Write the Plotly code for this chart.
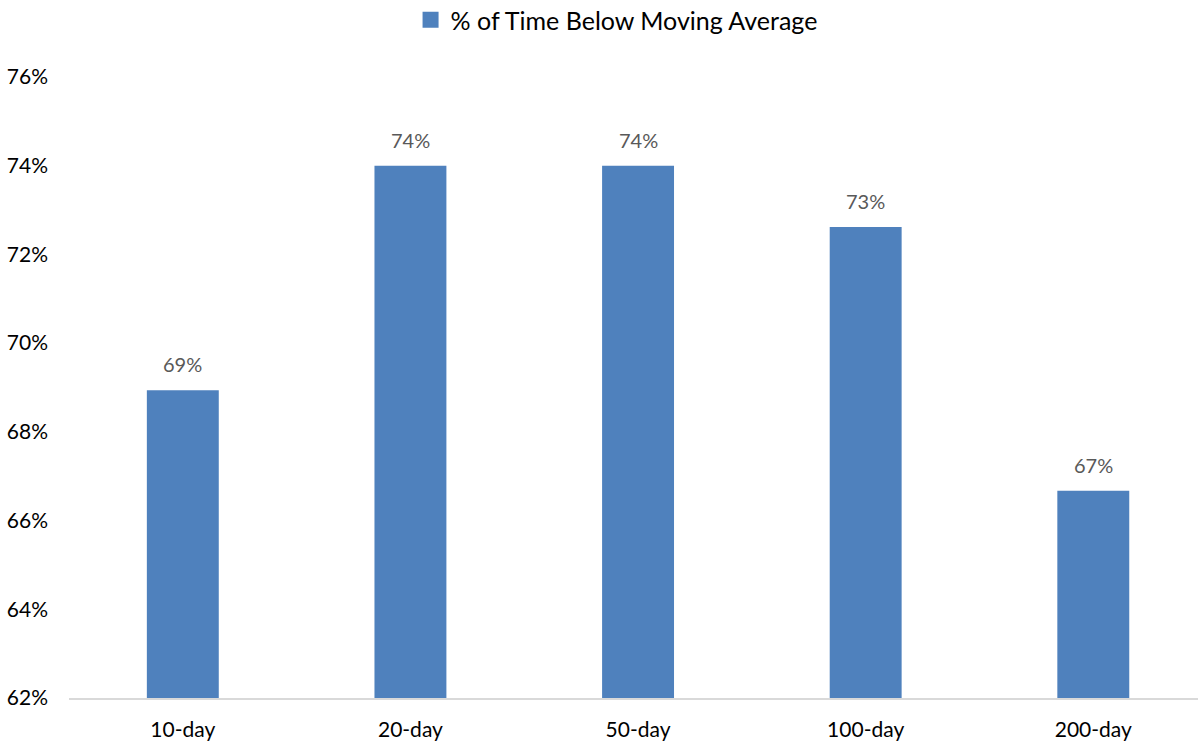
import plotly.graph_objects as go

categories = ["10-day", "20-day", "50-day", "100-day", "200-day"]
pct_below = [0.6894, 0.7400, 0.7400, 0.7262, 0.6667]
series_name = "% of Time Below Moving Average"
y_ticks = [0.62, 0.64, 0.66, 0.68, 0.70, 0.72, 0.74, 0.76]

FONT = "Lato, 'Open Sans', sans-serif"
BAR_COLOR = "#4F81BD"

fig = go.Figure()

# Bars (legend entry supplied by the square-marker trace below)
fig.add_trace(
    go.Bar(
        x=categories,
        y=pct_below,
        name=series_name,
        marker=dict(color=BAR_COLOR, line=dict(width=0)),
        showlegend=False,
    )
)

# Legend-only entry with a larger square swatch
fig.add_trace(
    go.Scatter(
        x=[None],
        y=[None],
        mode="markers",
        name=series_name,
        marker=dict(symbol="square", size=17, color=BAR_COLOR),
        showlegend=True,
    )
)

# Value labels floating above each bar
for cat, val in zip(categories, pct_below):
    fig.add_annotation(
        x=cat,
        y=val,
        text=f"{val:.0%}",
        showarrow=False,
        yanchor="middle",
        yshift=26,
        font=dict(family=FONT, size=20, color="#595959"),
    )

fig.update_layout(
    width=1198,
    height=742,
    margin=dict(l=69, r=0, t=77, b=44),
    paper_bgcolor="white",
    plot_bgcolor="white",
    bargap=0.684,
    showlegend=True,
    legend=dict(
        orientation="h",
        x=0.485,
        xanchor="center",
        y=0.973,
        yref="container",
        yanchor="middle",
        font=dict(family=FONT, size=25, color="#000000"),
        itemsizing="trace",
        itemwidth=30,
    ),
    font=dict(family=FONT),
)

fig.update_xaxes(
    range=[-0.5, 4.46],
    showgrid=False,
    showline=True,
    linecolor="#D9D9D9",
    linewidth=2,
    ticks="",
    ticklabelstandoff=12,
    tickfont=dict(family=FONT, size=21, color="#000000"),
)

fig.update_yaxes(
    range=[0.62, 0.76],
    tickvals=y_ticks,
    tickformat=".0%",
    showgrid=False,
    zeroline=False,
    showline=False,
    ticks="",
    ticklabelstandoff=20,
    tickfont=dict(family=FONT, size=21, color="#000000"),
)

fig.write_html("out.html")
